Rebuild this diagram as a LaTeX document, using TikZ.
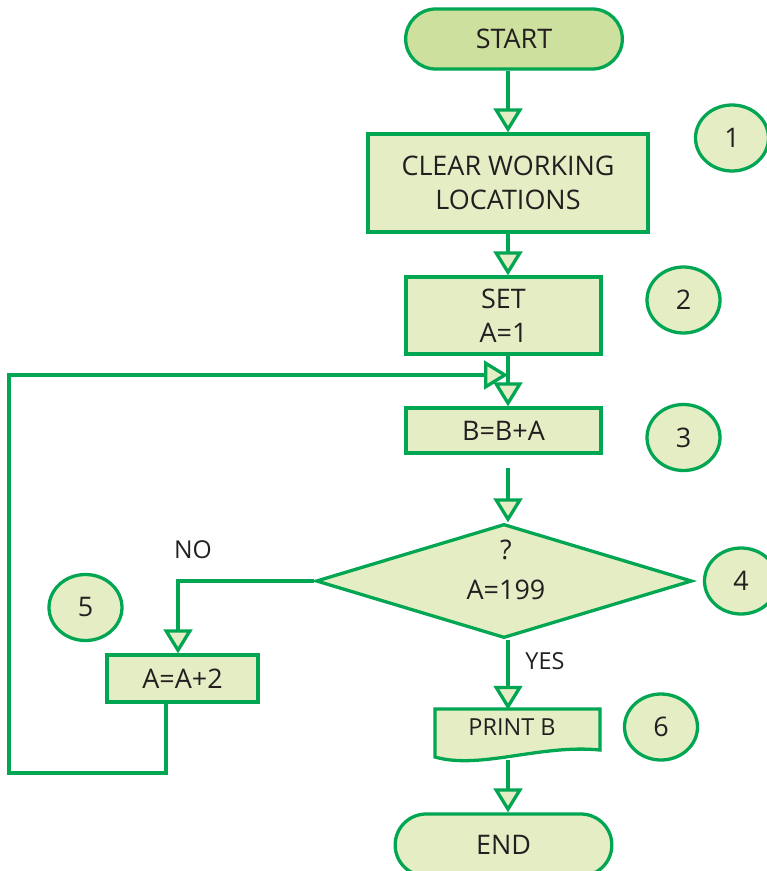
\documentclass[tikz,border=0pt]{standalone}
\usepackage{fontspec}
\setmainfont{Open Sans}
\usetikzlibrary{arrows.meta,shapes.geometric,shapes.misc}
\definecolor{fcgreen}{RGB}{0,166,81}
\definecolor{fcfill}{RGB}{228,237,196}
\definecolor{fcterm}{RGB}{205,224,158}
\definecolor{fctext}{RGB}{35,31,32}
\begin{document}
\begin{tikzpicture}[x=0.03cm,y=-0.03cm,
  base/.style={draw=fcgreen, line width=2.8pt, fill=fcfill, text=fctext,
    font=\fontsize{23}{29}\selectfont, align=center, inner sep=0pt},
  terminal/.style={base, rounded rectangle},
  process/.style={base, rectangle},
  decision/.style={base, diamond},
  marker/.style={base, ellipse, minimum width=2.19cm, minimum height=1.98cm},
  tag/.style={text=fctext, font=\fontsize{21}{25}\selectfont, inner sep=0pt},
  flow/.style={draw=fcgreen, line width=2.8pt},
  arr/.style={flow, -{Triangle[width=0.86cm,length=0.72cm,fill=fcfill]}}
]
\useasboundingbox (0,0) rectangle (767,871);

% guide coordinates for the connector routes
\coordinate (axis) at (508,0);
\coordinate (nox) at (178,0);
\coordinate (loopx) at (166,0);
\coordinate (lb) at (9,773);
\coordinate (join) at (508,375);
\coordinate (gap) at (508,468);
\coordinate (printbot) at (508,760);

% flowchart boxes
\node[terminal, fill=fcterm, minimum width=6.5cm, minimum height=1.8cm] (start) at (514,39) {START};
\node[process, minimum width=8.4cm, minimum height=2.94cm] (clear) at (508,183) {CLEAR WORKING\\LOCATIONS};
\node[process, minimum width=5.85cm, minimum height=2.31cm] (set) at (503.5,315.5) {SET\\A=1};
\node[process, minimum width=5.85cm, minimum height=1.35cm] (bba) at (503.5,430.5) {B=B+A};
\node[decision, minimum width=11.28cm, minimum height=3.42cm] (dec) at (504,581) {};
\node[text=fctext, font=\fontsize{23}{29}\selectfont, align=center, inner sep=0pt] (dectext) at (506,570) {?\\[5pt]A=199};
\node[process, minimum width=4.53cm, minimum height=1.41cm] (aa2) at (182.5,678.5) {A=A+2};

% document-shaped output box
\filldraw[draw=fcgreen, fill=fcfill, line width=2.8pt]
  (435,709) -- (600,709) -- (600,750)
  .. controls (540,744) and (480,770) .. (435,757) -- cycle;
\node[text=fctext, font=\fontsize{20}{24}\selectfont, inner sep=0pt,
  minimum width=4.95cm, minimum height=1.05cm] (printb) at (512,727.5) {PRINT B};

\node[terminal, minimum width=6.5cm, minimum height=1.86cm] (end) at (503.5,845) {END};

% step number markers
\node[marker] (m1) at (732,138) {1};
\node[marker] (m2) at (683.5,300) {2};
\node[marker] (m3) at (683.5,437.5) {3};
\node[marker] (m4) at (741,581) {4};
\node[marker] (m5) at (85.5,607.5) {5};
\node[marker] (m6) at (661,727) {6};

% branch labels
\node[tag] (no) at (193,550) {NO};
\node[tag, font=\fontsize{20}{24}\selectfont] (yes) at (545,661) {YES};

% connectors
\draw[arr] (start.south -| axis) -- (clear.north -| axis);
\draw[arr] (clear.south -| axis) -- (set.north -| axis);
\draw[arr] (set.south -| axis) -- (bba.north -| axis);
\draw[arr] (gap) -- (dec.north -| axis);
\draw[arr] (dec.south -| axis) -- (printb.north -| axis);
\draw[arr] (printbot) -- (end.north -| axis);
\draw[arr] (dec.west) -- (dec.west -| nox) -- (aa2.north -| nox);
\draw[arr] (aa2.south -| loopx) -- (loopx |- lb) -- (lb) -- (lb |- join) -- (join);
\end{tikzpicture}
\end{document}
